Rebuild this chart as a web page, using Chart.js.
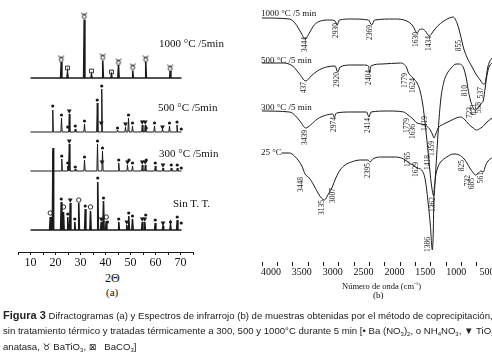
<!DOCTYPE html>
<html><head><meta charset="utf-8">
<script src="https://cdn.jsdelivr.net/npm/chart.js@4/dist/chart.umd.min.js"></script>
<style>
html,body{margin:0;padding:0;background:#fff;}
body{width:492px;height:362px;position:relative;overflow:hidden;font-family:"Liberation Serif",serif;color:#111;}
canvas{position:absolute;}
.t{position:absolute;white-space:nowrap;line-height:1;}
.cap{position:absolute;left:3px;width:487px;font-family:"Liberation Sans",Arial,sans-serif;font-size:9.6px;color:#222;}
.ln{height:16px;line-height:16px;white-space:nowrap;text-align:justify;text-align-last:justify;}
.ln.l{text-align-last:left;}
.cap b{font-size:11px;}
.cap sub{font-size:6px;vertical-align:-2px;line-height:0;}
.sym{font-family:"DejaVu Sans",sans-serif;font-size:9px;}
</style></head><body>
<canvas id="xrd" width="240" height="270" style="left:0;top:0"></canvas>
<canvas id="ir" width="252" height="282" style="left:240px;top:0"></canvas>

<div class="t" style="left:159px;top:38px;font-size:11px">1000 °C /5min</div>
<div class="t" style="left:158px;top:102px;font-size:11px">500 °C /5min</div>
<div class="t" style="left:159px;top:148px;font-size:11px">300 °C /5min</div>
<div class="t" style="left:173px;top:198px;font-size:11px">Sin T. T.</div>
<div class="t" style="left:105px;top:272px;font-size:12px">2Θ</div>
<div class="t" style="left:106px;top:287px;font-size:11px">(a)</div>

<div class="t" style="left:261px;top:9px;font-size:9px">1000 °C /5 min</div>
<div class="t" style="left:261px;top:56px;font-size:9px">500 °C /5 min</div>
<div class="t" style="left:261px;top:103px;font-size:9px">300 °C /5 min</div>
<div class="t" style="left:261px;top:148px;font-size:9px">25 °C</div>
<div class="t" style="left:342px;top:281px;font-size:8.5px">Número de onda (cm<sup style="font-size:5px">-1</sup>)</div>
<div class="t" style="left:373px;top:291px;font-size:9px">(b)</div>

<div class="cap" style="top:307px">
<div class="ln"><b>Figura 3</b> Difractogramas (a) y Espectros de infrarrojo (b) de muestras obtenidas por el método de coprecipitación,</div>
<div class="ln">sin tratamiento térmico y tratadas térmicamente a 300, 500 y 1000°C durante 5 min [• Ba (NO<sub>3</sub>)<sub>2</sub>, o NH<sub>4</sub>NO<sub>3</sub>, ▼ TiO<sub>2</sub></div>
<div class="ln l">anatasa, <span class="sym">&#x2649;&#xFE0E;</span> BaTiO<sub>3</sub>, <span class="sym">&#x22A0;</span> &nbsp; BaCO<sub>3</sub>]</div>
</div>

<script>
// ---------- (a) XRD data ----------
const xrdSeries = ['1000 °C /5min', '500 °C /5min', '300 °C /5min', 'Sin T. T.'];
const xrdOffsets = [174, 120, 81, 22];
const xrdTickLabels = [10, 20, 30, 40, 50, 60, 70];
// [2theta, peak height]
const xrd1000Peaks = [[22.3,16],[24.8,5],[31.5,58],[34.4,3],[38.9,17],[42.4,3],[45.2,13],[50.9,7],[56.1,16],[65.9,7]];
const xrd500Peaks = [[18.9,22],[22.4,14],[25.5,18],[27.9,3],[31.6,8],[36.7,29],[38.5,43],[44.8,2],[48.0,5],[49.2,14],[50.8,6],[54.7,7],[55.9,7],[59.6,6],[62.8,3],[65.6,6],[68.6,7]];
const xrd300Peaks = [[18.9,20],[22.5,12],[24.9,5],[25.5,27],[27.9,2],[31.6,11],[36.8,27],[38.8,20],[45.3,8],[48.8,6],[50.8,5],[54.7,6],[55.9,6],[59.9,5],[63.0,3],[66.3,3],[68.7,3]];
const xrdSinPeaks = [[17.9,13],[19.0,82],[22.3,28],[23.2,18],[24.9,13],[25.9,27],[27.7,8],[29.3,27],[31.9,21],[34.0,19],[36.9,48],[38.3,8],[39.2,29],[40.3,9],[45.3,8],[48.5,5],[49.3,14],[50.8,11],[54.7,8],[55.7,8],[59.9,7],[63.0,4],[66.0,5],[68.7,10]];
// phase markers [2theta, height, type]  d=Ba(NO3)2 o=NH4NO3 t=TiO2 b=BaTiO3 x=BaCO3
const xrd1000Marks = [[22.3,20,'b'],[24.8,10,'x'],[31.5,63,'b'],[34.4,7,'x'],[38.9,22,'b'],[42.4,6,'x'],[45.2,17,'b'],[50.9,12,'b'],[56.1,20,'b'],[65.9,11,'b']];
const xrd500Marks = [[18.9,26,'d'],[22.4,17,'d'],[24.9,5,'d'],[25.5,21,'t'],[27.9,6,'d'],[31.6,11,'d'],[36.7,32,'d'],[38.5,46,'d'],[38.3,9,'t'],[44.8,4,'d'],[48.0,8,'t'],[49.2,17,'d'],[50.8,9,'d'],[54.7,10,'t'],[55.9,10,'t'],[56.3,4,'d'],[59.6,9,'d'],[62.8,5,'t'],[65.6,9,'d'],[68.6,10,'d'],[70.3,3,'d']];
const xrd300Marks = [[22.5,15,'d'],[24.9,8,'d'],[25.5,30,'t'],[27.9,4,'d'],[31.6,14,'d'],[36.8,30,'d'],[38.8,23,'d'],[38.6,9,'t'],[45.3,11,'d'],[48.8,9,'t'],[49.4,11,'d'],[50.8,8,'d'],[54.7,9,'t'],[55.9,9,'t'],[56.3,11,'d'],[59.9,8,'d'],[63.0,6,'t'],[66.3,6,'d'],[68.7,6,'d'],[70.3,3,'d']];
const xrdSinMarks = [[17.9,17,'o'],[22.3,31,'d'],[23.2,23,'o'],[24.9,16,'d'],[25.9,30,'t'],[27.7,11,'d'],[29.3,30,'o'],[31.9,24,'d'],[34.0,23,'o'],[36.9,52,'d'],[38.3,11,'t'],[39.2,32,'d'],[40.3,13,'o'],[40.8,8,'d'],[45.3,11,'d'],[48.5,8,'t'],[49.3,17,'d'],[50.8,14,'d'],[54.7,11,'t'],[55.7,11,'t'],[56.1,15,'d'],[59.9,10,'d'],[63.0,7,'t'],[66.0,8,'d'],[68.7,13,'d'],[70.3,7,'d']];

// ---------- (b) IR data  [wavenumber, stacked transmittance offset (down = absorption)] ----------
const irSeries = ['1000 °C /5 min', '500 °C /5 min', '300 °C /5 min', '25 °C'];
const irTickLabels = [4000, 3500, 3000, 2500, 2000, 1500, 1000, 500];
const ir1000 = [[4146,18],[3700,19],[3600,24],[3520,32],[3444,39],[3380,33],[3300,25],[3200,21],[3050,20],[2960,21],[2930,25],[2890,20],[2700,19],[2420,20],[2369,25],[2320,20],[2000,19],[1800,21],[1700,26],[1650,32],[1630,33],[1600,30],[1550,29],[1500,31],[1434,36],[1380,32],[1300,26],[1200,21],[1110,18],[1050,17],[980,24],[930,35],[880,48],[820,58],[750,66],[680,74],[610,80],[560,84],[537,84],[515,78],[490,68],[460,62],[419,58]];
const ir500 = [[4146,63],[3800,63],[3650,66],[3550,73],[3437,81],[3350,76],[3250,71],[3100,67],[2960,66],[2920,72],[2880,67],[2700,65],[2500,65],[2420,66],[2404,73],[2380,66],[2200,64],[1900,63],[1800,68],[1779,72],[1700,78],[1624,84],[1580,92],[1540,105],[1500,125],[1450,155],[1400,185],[1362,196],[1330,170],[1290,130],[1250,100],[1200,82],[1150,74],[1080,68],[1000,64],[950,64],[880,68],[830,80],[810,88],[770,100],[723,108],[690,110],[640,108],[600,104],[558,100],[530,88],[500,75],[460,66],[419,63]];
const ir300 = [[4146,111],[3700,112],[3600,116],[3520,122],[3439,128],[3360,125],[3250,119],[3100,115],[3000,114],[2974,117],[2940,113],[2700,112],[2450,112],[2414,117],[2380,112],[2100,111],[1850,112],[1779,115],[1700,119],[1636,123],[1560,124],[1480,126],[1419,130],[1380,135],[1359,138],[1330,134],[1290,128],[1200,124],[1100,121],[1000,118],[930,117],[870,119],[800,124],[723,128],[671,130],[600,128],[558,126],[500,122],[419,118]];
const ir25 = [[3830,153],[3700,153],[3620,156],[3550,161],[3500,166],[3448,174],[3380,178],[3300,186],[3220,195],[3135,200],[3070,194],[3007,187],[2950,178],[2880,170],[2800,165],[2700,162],[2550,160],[2430,160],[2395,162],[2350,159],[2200,157],[2000,157],[1850,159],[1765,163],[1700,165],[1629,168],[1560,170],[1500,180],[1450,205],[1418,225],[1386,250],[1370,230],[1362,200],[1340,180],[1300,168],[1250,162],[1150,157],[1050,154],[950,155],[870,159],[825,163],[780,168],[732,172],[685,175],[640,173],[600,171],[561,172],[520,165],[470,160],[419,158]];
// band labels [position wavenumber, offset of label top, text]
const irBandLabels = [
 [3449,37,'3444'],[2947,23,'2930'],[2396,25,'2369'],[1651,32,'1630'],[1440,36,'1434'],[950,40,'855'],[598,87,'537'],
 [3465,82,'437'],[2931,72,'2920'],[2412,70,'2404'],[1829,73,'1779'],[1700,78,'1624'],[857,85,'810'],[776,107,'723'],[711,104,'671'],[630,102,'558'],
 [3449,130,'3439'],[2979,117,'2974'],[2429,118,'2414'],[1797,118,'1779'],[1700,124,'1636'],[1505,116,'1419'],[1392,141,'1359'],
 [3514,177,'3448'],[3174,200,'3135'],[2996,188,'3007'],[2429,163,'2395'],[1781,152,'1765'],[1651,162,'1629'],[1457,155,'1418'],[1457,237,'1386'],[1376,197,'1362'],[906,160,'825'],[809,175,'732'],[744,178,'685'],[598,172,'561']
];

// ---------- build ----------
Chart.defaults.font.family = '"Liberation Serif", serif';
Chart.defaults.color = '#111';
const INK = '#1a1a1a';

function peakLine(base, peaks, from, to){
  const pts = [{x:from, y:base}];
  peaks.forEach(([p,h]) => { pts.push({x:p-0.25,y:base},{x:p,y:base+h},{x:p+0.25,y:base}); });
  pts.push({x:to, y:base});
  pts.sort((a,b)=>a.x-b.x);
  return pts;
}
function taurus(){
  const c = document.createElement('canvas'); c.width = 8; c.height = 9;
  const g = c.getContext('2d'); g.strokeStyle = INK; g.lineWidth = 0.9;
  g.beginPath(); g.arc(4,6.2,2.0,0,Math.PI*2); g.stroke();
  g.beginPath(); g.arc(4,1,3,0.12*Math.PI,0.88*Math.PI); g.stroke();
  return c;
}
const taurusImg = taurus();

const peakSets = [xrd1000Peaks, xrd500Peaks, xrd300Peaks, xrdSinPeaks];
const markSets = [xrd1000Marks, xrd500Marks, xrd300Marks, xrdSinMarks];
const xrdDatasets = [];
peakSets.forEach((pk,i)=>{
  xrdDatasets.push({type:'line', label:xrdSeries[i], data:peakLine(xrdOffsets[i], pk, 10, 70.4),
    borderColor:INK, borderWidth:(i===0||i===3)?1.6:1, pointRadius:0, tension:0, fill:false});
});
const markStyle = {
  d:{pointStyle:'circle', pointRadius:1.6, backgroundColor:INK, borderColor:INK, borderWidth:0},
  t:{pointStyle:'triangle', pointRadius:2.8, rotation:180, backgroundColor:INK, borderColor:INK, borderWidth:0},
  o:{pointStyle:'circle', pointRadius:2.2, backgroundColor:'#fff', borderColor:INK, borderWidth:0.9},
  b:{pointStyle:taurusImg, pointRadius:4},
  x:{pointStyle:'rect', pointRadius:2.7, backgroundColor:'#fff', borderColor:INK, borderWidth:0.9},
  x2:{pointStyle:'crossRot', pointRadius:2.5, borderColor:INK, borderWidth:0.9}
};
['d','t','o','b','x','x2'].forEach(k=>{
  const key = k==='x2' ? 'x' : k;
  const data = [];
  markSets.forEach((ms,i)=>ms.forEach(([p,h,ty])=>{ if(ty===key) data.push({x:p, y:xrdOffsets[i]+h}); }));
  xrdDatasets.push(Object.assign({type:'scatter', data, showLine:false}, markStyle[k]));
});

new Chart(document.getElementById('xrd'), {
  data:{datasets:xrdDatasets},
  options:{
    responsive:false, animation:false, devicePixelRatio:1,
    layout:{padding:{left:18, right:47, top:12, bottom:0}},
    plugins:{legend:{display:false}, tooltip:{enabled:false}},
    scales:{
      x:{type:'linear', min:5, max:75,
        ticks:{stepSize:5, autoSkip:false, maxRotation:0, padding:1, font:{size:12}, color:'#111',
          callback:v=> xrdTickLabels.includes(v) ? String(v) : ''},
        grid:{display:true, drawOnChartArea:false, drawTicks:true, tickLength:3, color:INK},
        border:{display:true, color:INK, width:1},
        afterFit(s){ s.height = 18; s.paddingLeft = 0; s.paddingRight = 0; }
      },
      y:{type:'linear', min:0, max:240, display:false}
    }
  }
});

const irLabelPlugin = {
  id:'irLabels',
  afterDatasetsDraw(chart){
    const {ctx, scales:{x, y}} = chart;
    ctx.save();
    ctx.font = '7.5px "Liberation Serif"';
    ctx.fillStyle = INK; ctx.textBaseline = 'middle'; ctx.textAlign = 'right';
    irBandLabels.forEach(([wn, top, txt])=>{
      ctx.save();
      ctx.translate(x.getPixelForValue(wn), y.getPixelForValue(top));
      ctx.rotate(-Math.PI/2);
      ctx.fillText(txt, 0, 0);
      ctx.restore();
    });
    ctx.restore();
  },
  afterDraw(chart){
    const {ctx, scales:{x}, chartArea} = chart;
    ctx.save();
    ctx.font = '10px "Liberation Serif"';
    ctx.fillStyle = '#111'; ctx.textAlign = 'center'; ctx.textBaseline = 'middle';
    irTickLabels.forEach(v=> ctx.fillText(String(v), x.getPixelForValue(v), chartArea.bottom + 10));
    ctx.restore();
  }
};
const irSets = [ir1000, ir500, ir300, ir25];
new Chart(document.getElementById('ir'), {
  type:'line',
  data:{datasets: irSets.map((s,i)=>({label:irSeries[i], data:s.map(([w,v])=>({x:w,y:v})),
    borderColor:INK, borderWidth:1, pointRadius:0, cubicInterpolationMode:'monotone', fill:false}))},
  options:{
    responsive:false, animation:false, devicePixelRatio:1,
    layout:{padding:{left:22, right:0, top:0, bottom:0}},
    plugins:{legend:{display:false}, tooltip:{enabled:false}},
    scales:{
      x:{type:'linear', min:419, max:4146, reverse:true,
        ticks:{stepSize:250, includeBounds:false, autoSkip:false, maxRotation:0, padding:1, font:{size:10}, color:'#111',
          callback:()=> ''},
        grid:{display:true, drawOnChartArea:false, drawTicks:true, tickLength:4, color:INK},
        border:{display:false},
        afterFit(s){ s.height = 20; s.paddingLeft = 0; s.paddingRight = 0; }
      },
      y:{type:'linear', min:0, max:262, reverse:true, display:false}
    }
  },
  plugins:[irLabelPlugin]
});
</script>
</body></html>
